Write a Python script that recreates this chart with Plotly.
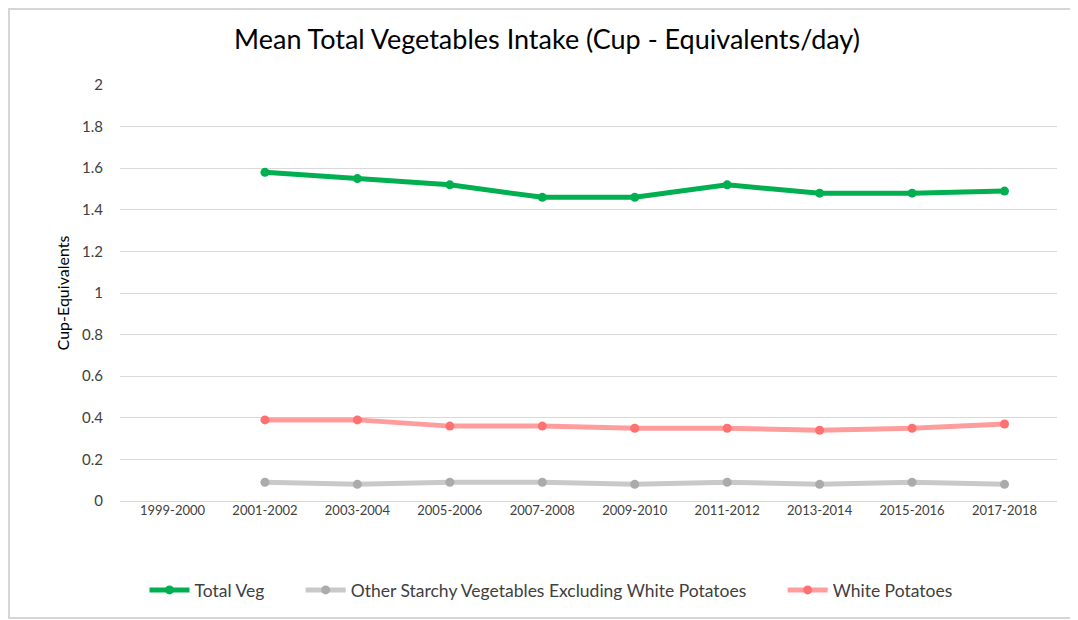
import plotly.graph_objects as go

# --- Data ---
YEARS = ['1999-2000', '2001-2002', '2003-2004', '2005-2006', '2007-2008',
         '2009-2010', '2011-2012', '2013-2014', '2015-2016', '2017-2018']
TOTAL_VEG = [None, 1.58, 1.55, 1.52, 1.46, 1.46, 1.52, 1.48, 1.48, 1.49]
OTHER_STARCHY = [None, 0.09, 0.08, 0.09, 0.09, 0.08, 0.09, 0.08, 0.09, 0.08]
WHITE_POTATOES = [None, 0.39, 0.39, 0.36, 0.36, 0.35, 0.35, 0.34, 0.35, 0.37]
Y_TICKS = [0, 0.2, 0.4, 0.6, 0.8, 1, 1.2, 1.4, 1.6, 1.8, 2]

FONT = "Lato, 'Open Sans', sans-serif"
W, H = 1078, 620
OFF = 8  # page body margin pushes the figure down/right
# plot area in screen pixels: x 120..1057, y 85..501
M_L, M_R = 120 - OFF, W - (1057 - OFF)
M_T, M_B = 85 - OFF, H - (501 - OFF)
GAP = '\u00a0' * 7  # extra room between legend entries, like Excel

fig = go.Figure()

fig.add_trace(go.Scatter(
    x=YEARS, y=TOTAL_VEG, name='Total Veg' + GAP, mode='lines+markers',
    line=dict(color='#00B050', width=5), marker=dict(color='#00B050', size=9)))
fig.add_trace(go.Scatter(
    x=YEARS, y=OTHER_STARCHY, name='Other Starchy Vegetables Excluding White Potatoes' + GAP,
    mode='lines+markers',
    line=dict(color='#C9C9C9', width=5), marker=dict(color='#ABABAB', size=9)))
fig.add_trace(go.Scatter(
    x=YEARS, y=WHITE_POTATOES, name='White Potatoes', mode='lines+markers',
    line=dict(color='#FF9C9C', width=5), marker=dict(color='#FF7070', size=9)))

# light border around the whole chart (like the Excel chart area)
pw = W - M_L - M_R
ph = H - M_T - M_B
fig.add_shape(type='rect', xref='paper', yref='paper',
              x0=(1 - M_L) / pw, x1=(W + 5 - M_L) / pw,
              y0=(H - (618 - OFF) - M_B) / ph, y1=(H - 1 - M_B) / ph,
              line=dict(color='#D6D6D6', width=2), fillcolor='rgba(0,0,0,0)')

fig.update_layout(
    width=W, height=H,
    margin=dict(l=M_L, r=M_R, t=M_T, b=M_B, autoexpand=False),
    paper_bgcolor='white', plot_bgcolor='white',
    font=dict(family=FONT, color='#404040'),
    title=dict(text='Mean Total Vegetables Intake (Cup - Equivalents/day)',
               x=(547 - OFF) / W, xanchor='center', y=1 - (40 - OFF) / H, yanchor='middle',
               font=dict(size=27, color='#000000', family=FONT)),
    showlegend=True,
    legend=dict(orientation='h', x=(551 - OFF - M_L) / pw, xanchor='center',
                y=(H - (590 - OFF) - M_B) / ph, yanchor='middle',
                font=dict(size=17.5, color='#404040'), itemwidth=40,
                traceorder='normal'),
    xaxis=dict(type='category', showgrid=False, showline=False, ticks='',
               tickfont=dict(size=13, color='#404040')),
    yaxis=dict(range=[0, 2], tickvals=Y_TICKS, ticktext=[str(v) for v in Y_TICKS],
               showgrid=True, gridcolor='#D9D9D9', gridwidth=1.2,
               zeroline=True, zerolinecolor='#D9D9D9', zerolinewidth=1.2,
               showline=False, ticks='', ticklabelstandoff=16,
               tickfont=dict(size=15, color='#404040'),
               title=dict(text='Cup-Equivalents', standoff=8,
                          font=dict(size=16, color='#000000'))),
)

fig.write_html("out.html")
